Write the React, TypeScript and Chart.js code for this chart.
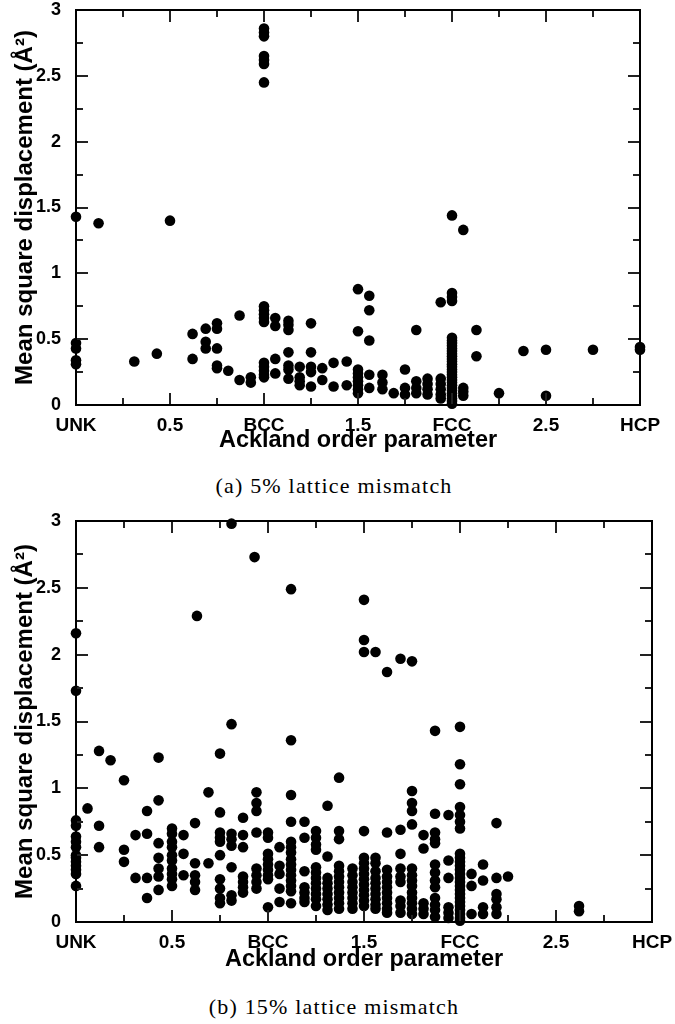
import React, { useEffect, useRef } from 'react';
import { Chart, registerables } from 'chart.js';

Chart.register(...registerables);

const xTickLabels = ['UNK', '0.5', 'BCC', '1.5', 'FCC', '2.5', 'HCP'];
const yTickLabels = ['0', '0.5', '1', '1.5', '2', '2.5', '3'];
const xAxisTitle = 'Ackland order parameter';
const yAxisTitle = 'Mean square displacement (Å²)';
const captionA = '(a) 5% lattice mismatch';
const captionB = '(b) 15% lattice mismatch';

// (a) 5% lattice mismatch: [order parameter, MSD]
const mismatch5: [number, number][] = [
  [0, 1.43], [0.12, 1.38], [0.5, 1.4],
  [0, 0.47], [0, 0.43], [0, 0.34], [0, 0.31],
  [0.31, 0.33], [0.43, 0.39],
  [0.62, 0.54], [0.62, 0.35],
  [0.69, 0.58], [0.69, 0.48], [0.69, 0.43],
  [0.75, 0.62], [0.75, 0.58], [0.75, 0.43], [0.75, 0.3], [0.75, 0.28],
  [0.81, 0.26],
  [0.87, 0.68], [0.87, 0.19],
  [0.93, 0.21], [0.93, 0.17],
  [1, 2.86], [1, 2.83], [1, 2.8], [1, 2.65], [1, 2.62], [1, 2.59], [1, 2.45],
  [1, 0.75], [1, 0.72], [1, 0.69], [1, 0.66], [1, 0.63],
  [1, 0.32], [1, 0.29], [1, 0.26], [1, 0.23], [1, 0.21],
  [1.06, 0.66], [1.06, 0.6], [1.06, 0.35], [1.06, 0.24],
  [1.13, 0.64], [1.13, 0.61], [1.13, 0.57], [1.13, 0.4], [1.13, 0.3], [1.13, 0.27], [1.13, 0.2],
  [1.19, 0.29], [1.19, 0.21], [1.19, 0.18], [1.19, 0.15],
  [1.25, 0.62], [1.25, 0.4], [1.25, 0.29], [1.25, 0.25], [1.25, 0.14],
  [1.31, 0.28], [1.31, 0.19],
  [1.37, 0.32], [1.37, 0.14],
  [1.44, 0.33], [1.44, 0.15],
  [1.5, 0.88], [1.5, 0.56], [1.5, 0.27], [1.5, 0.24], [1.5, 0.21], [1.5, 0.18], [1.5, 0.15], [1.5, 0.12], [1.5, 0.09],
  [1.56, 0.83], [1.56, 0.72], [1.56, 0.49], [1.56, 0.23], [1.56, 0.13],
  [1.63, 0.23], [1.63, 0.17], [1.63, 0.12],
  [1.69, 0.09],
  [1.75, 0.27], [1.75, 0.13], [1.75, 0.08],
  [1.81, 0.57], [1.81, 0.18], [1.81, 0.13], [1.81, 0.09],
  [1.87, 0.2], [1.87, 0.16], [1.87, 0.12], [1.87, 0.08],
  [1.94, 0.78], [1.94, 0.2], [1.94, 0.16], [1.94, 0.12], [1.94, 0.08], [1.94, 0.05],
  [2, 1.44], [2, 0.85], [2, 0.82], [2, 0.79],
  [2, 0.51], [2, 0.49], [2, 0.47], [2, 0.45], [2, 0.43], [2, 0.41], [2, 0.39], [2, 0.37], [2, 0.35],
  [2, 0.33], [2, 0.31], [2, 0.29], [2, 0.27], [2, 0.25], [2, 0.23], [2, 0.21], [2, 0.19], [2, 0.17],
  [2, 0.15], [2, 0.13], [2, 0.11], [2, 0.09], [2, 0.07], [2, 0.05], [2, 0.03], [2, 0.01],
  [2.06, 1.33], [2.06, 0.13], [2.06, 0.1], [2.06, 0.07],
  [2.13, 0.57], [2.13, 0.37],
  [2.25, 0.09],
  [2.38, 0.41],
  [2.5, 0.42], [2.5, 0.07],
  [2.75, 0.42],
  [3, 0.44], [3, 0.42],
];

// (b) 15% lattice mismatch: [order parameter, MSD]
const mismatch15: [number, number][] = [
  [0.81, 2.98], [0.93, 2.73], [1.12, 2.49], [0.63, 2.29],
  [0, 2.16], [0, 1.73],
  [1.5, 2.41], [1.5, 2.11], [1.5, 2.02], [1.56, 2.02], [1.62, 1.87], [1.69, 1.97], [1.75, 1.95],
  [1.87, 1.43], [2, 1.46], [2, 1.18], [2, 1.03],
  [1.37, 1.08], [0.81, 1.48], [1.12, 1.36], [0.12, 1.28], [0.18, 1.21], [0.25, 1.06], [0.43, 1.23], [0.75, 1.26],
  [0.06, 0.85],
  [0, 0.76], [0, 0.72], [0, 0.64], [0, 0.6], [0, 0.56], [0, 0.5], [0, 0.48], [0, 0.45], [0, 0.42], [0, 0.39], [0, 0.36], [0, 0.27],
  [0.12, 0.72], [0.12, 0.56],
  [0.25, 0.54], [0.25, 0.45],
  [0.31, 0.65], [0.31, 0.33],
  [0.37, 0.83], [0.37, 0.66], [0.37, 0.33], [0.37, 0.18],
  [0.43, 0.91], [0.43, 0.59], [0.43, 0.48], [0.43, 0.4], [0.43, 0.34], [0.43, 0.24],
  [0.5, 0.7], [0.5, 0.66], [0.5, 0.6], [0.5, 0.56], [0.5, 0.5], [0.5, 0.46], [0.5, 0.4], [0.5, 0.36], [0.5, 0.32], [0.5, 0.27],
  [0.56, 0.65], [0.56, 0.51], [0.56, 0.35],
  [0.62, 0.74], [0.62, 0.44], [0.62, 0.35], [0.62, 0.3], [0.62, 0.24],
  [0.69, 0.97], [0.69, 0.44],
  [0.75, 0.82], [0.75, 0.67], [0.75, 0.63], [0.75, 0.6], [0.75, 0.5], [0.75, 0.32], [0.75, 0.25], [0.75, 0.18], [0.75, 0.14],
  [0.81, 0.66], [0.81, 0.62], [0.81, 0.57], [0.81, 0.41], [0.81, 0.2], [0.81, 0.16],
  [0.87, 0.78], [0.87, 0.65], [0.87, 0.56], [0.87, 0.34], [0.87, 0.3], [0.87, 0.26], [0.87, 0.22],
  [0.94, 0.97], [0.94, 0.89], [0.94, 0.83], [0.94, 0.67], [0.94, 0.4], [0.94, 0.35], [0.94, 0.3], [0.94, 0.25],
  [1, 0.67], [1, 0.63], [1, 0.51], [1, 0.47], [1, 0.43], [1, 0.39], [1, 0.35], [1, 0.32], [1, 0.11],
  [1.06, 0.56], [1.06, 0.42], [1.06, 0.36], [1.06, 0.25], [1.06, 0.15],
  [1.12, 0.95], [1.12, 0.75], [1.12, 0.6], [1.12, 0.56], [1.12, 0.52], [1.12, 0.47], [1.12, 0.43], [1.12, 0.39],
  [1.12, 0.35], [1.12, 0.31], [1.12, 0.27], [1.12, 0.23], [1.12, 0.14],
  [1.19, 0.75], [1.19, 0.63], [1.19, 0.38], [1.19, 0.26], [1.19, 0.22], [1.19, 0.18], [1.19, 0.15],
  [1.25, 0.68], [1.25, 0.63], [1.25, 0.58], [1.25, 0.54], [1.25, 0.41], [1.25, 0.37], [1.25, 0.33], [1.25, 0.29],
  [1.25, 0.25], [1.25, 0.21], [1.25, 0.17], [1.25, 0.12],
  [1.31, 0.87], [1.31, 0.49], [1.31, 0.33], [1.31, 0.29], [1.31, 0.25], [1.31, 0.21], [1.31, 0.17], [1.31, 0.13], [1.31, 0.09],
  [1.37, 0.68], [1.37, 0.62], [1.37, 0.42], [1.37, 0.38], [1.37, 0.34], [1.37, 0.3], [1.37, 0.26], [1.37, 0.22],
  [1.37, 0.18], [1.37, 0.14], [1.37, 0.1],
  [1.44, 0.4], [1.44, 0.35], [1.44, 0.3], [1.44, 0.26], [1.44, 0.22], [1.44, 0.18], [1.44, 0.14], [1.44, 0.1],
  [1.5, 0.68], [1.5, 0.48], [1.5, 0.44], [1.5, 0.4], [1.5, 0.36], [1.5, 0.32], [1.5, 0.28], [1.5, 0.24], [1.5, 0.2],
  [1.5, 0.16], [1.5, 0.12],
  [1.56, 0.48], [1.56, 0.44], [1.56, 0.38], [1.56, 0.33], [1.56, 0.29], [1.56, 0.25], [1.56, 0.21], [1.56, 0.17],
  [1.56, 0.13], [1.56, 0.1],
  [1.62, 0.67], [1.62, 0.39], [1.62, 0.34], [1.62, 0.3], [1.62, 0.26], [1.62, 0.22], [1.62, 0.18], [1.62, 0.14],
  [1.62, 0.1], [1.62, 0.07],
  [1.69, 0.69], [1.69, 0.51], [1.69, 0.4], [1.69, 0.34], [1.69, 0.3], [1.69, 0.16], [1.69, 0.12], [1.69, 0.07],
  [1.75, 0.98], [1.75, 0.89], [1.75, 0.83], [1.75, 0.73], [1.75, 0.4], [1.75, 0.35], [1.75, 0.31], [1.75, 0.27],
  [1.75, 0.22], [1.75, 0.18], [1.75, 0.14], [1.75, 0.1], [1.75, 0.06],
  [1.81, 0.65], [1.81, 0.55], [1.81, 0.14], [1.81, 0.1], [1.81, 0.06],
  [1.87, 0.81], [1.87, 0.67], [1.87, 0.62], [1.87, 0.59], [1.87, 0.43], [1.87, 0.37], [1.87, 0.31], [1.87, 0.26],
  [1.87, 0.18], [1.87, 0.13], [1.87, 0.09], [1.87, 0.04],
  [1.94, 0.8], [1.94, 0.46], [1.94, 0.33], [1.94, 0.11], [1.94, 0.07], [1.94, 0.03],
  [2, 0.86], [2, 0.8], [2, 0.75], [2, 0.7],
  [2, 0.51], [2, 0.48], [2, 0.45], [2, 0.42], [2, 0.39], [2, 0.36], [2, 0.33], [2, 0.3], [2, 0.27], [2, 0.24],
  [2, 0.21], [2, 0.18], [2, 0.15], [2, 0.12], [2, 0.09], [2, 0.06], [2, 0.03], [2, 0.01],
  [2.06, 0.36], [2.06, 0.27], [2.06, 0.06],
  [2.12, 0.43], [2.12, 0.31], [2.12, 0.11], [2.12, 0.06],
  [2.19, 0.74], [2.19, 0.33], [2.19, 0.21], [2.19, 0.17], [2.19, 0.11], [2.19, 0.06],
  [2.25, 0.34],
  [2.62, 0.12], [2.62, 0.08],
];

const SANS = '"Liberation Sans", Arial, Helvetica, sans-serif';
const TICK_STEPS = [0, 0.25, 0.5, 0.75, 1, 1.25, 1.5, 1.75, 2, 2.25, 2.5, 2.75, 3];

const frameTicks = {
  id: 'frameTicks',
  afterDraw(chart: any) {
    const ctx = chart.ctx;
    const area = chart.chartArea;
    const xs = chart.scales['x'];
    const ys = chart.scales['y'];
    const left = area.left;
    const right = area.right;
    const top = area.top;
    const bottom = area.bottom;
    ctx.save();
    ctx.strokeStyle = '#222';
    ctx.lineWidth = 2;
    ctx.lineCap = 'butt';
    for (let i = 0; i < TICK_STEPS.length; i++) {
      const v = TICK_STEPS[i];
      const len = i % 2 === 0 ? 12 : 7;
      const px = Math.round(xs.getPixelForValue(v));
      const py = Math.round(ys.getPixelForValue(v));
      ctx.beginPath();
      ctx.moveTo(px, bottom);
      ctx.lineTo(px, bottom - len);
      ctx.moveTo(px, top);
      ctx.lineTo(px, top + len);
      ctx.moveTo(left, py);
      ctx.lineTo(left + len, py);
      ctx.moveTo(right, py);
      ctx.lineTo(right - len, py);
      ctx.stroke();
    }
    ctx.strokeStyle = '#000';
    ctx.lineWidth = 2;
    ctx.strokeRect(left, top, right - left, bottom - top);
    ctx.restore();
  },
};

type PanelProps = {
  points: [number, number][];
  width: number;
  height: number;
  padTop: number;
  padRight: number;
  xScaleHeight: number;
  xTitlePad: number;
};

function Panel({ points, width, height, padTop, padRight, xScaleHeight, xTitlePad }: PanelProps) {
  const ref = useRef<HTMLCanvasElement | null>(null);
  useEffect(() => {
    if (!ref.current) return;
    const chart = new Chart(ref.current, {
      type: 'scatter',
      data: {
        datasets: [
          {
            data: points.map(([x, y]) => ({ x, y })),
            pointRadius: 5.3,
            pointBackgroundColor: '#000',
            pointBorderWidth: 0,
            clip: false as any,
          },
        ],
      },
      plugins: [frameTicks],
      options: {
        animation: false,
        responsive: false,
        maintainAspectRatio: false,
        layout: { padding: { left: 0, top: padTop, right: padRight, bottom: 0 } },
        plugins: { legend: { display: false }, tooltip: { enabled: false } },
        scales: {
          x: {
            type: 'linear',
            min: 0,
            max: 3,
            grid: { display: false },
            border: { display: false },
            ticks: {
              stepSize: 0.5,
              autoSkip: false,
              maxRotation: 0,
              padding: 1,
              color: '#000',
              font: { family: SANS, size: 19, weight: 'bold' },
              callback: (v: any) => xTickLabels[Math.round(Number(v) * 2)] ?? '',
            },
            title: {
              display: true,
              text: xAxisTitle,
              color: '#000',
              font: { family: SANS, size: 23.5, weight: 'bold' },
              padding: { top: 0, bottom: xTitlePad },
            },
            afterFit: (s: any) => {
              s.height = xScaleHeight;
              s.paddingLeft = 0;
              s.paddingRight = 0;
            },
          },
          y: {
            type: 'linear',
            min: 0,
            max: 3,
            grid: { display: false },
            border: { display: false },
            ticks: {
              stepSize: 0.5,
              autoSkip: false,
              padding: 7,
              color: '#000',
              font: { family: SANS, size: 18, weight: 'bold' },
              callback: (v: any) => yTickLabels[Math.round(Number(v) * 2)] ?? '',
            },
            title: {
              display: true,
              text: yAxisTitle,
              color: '#000',
              font: { family: SANS, size: 24, weight: 'bold' },
              padding: { top: 11, bottom: 0 },
            },
            afterFit: (s: any) => {
              s.width = 76;
              s.paddingTop = 0;
              s.paddingBottom = 0;
            },
          },
        },
      } as any,
    });
    return () => chart.destroy();
  }, []);
  return <canvas ref={ref} width={width} height={height} style={{ display: 'block', width, height }} />;
}

const captionStyle: React.CSSProperties = {
  position: 'absolute',
  left: 0,
  width: 668,
  textAlign: 'center',
  fontFamily: '"Liberation Serif", "Times New Roman", serif',
  fontSize: 22,
  letterSpacing: 1.2,
  lineHeight: '26px',
  color: '#000',
};

export default function App() {
  return (
    <div style={{ position: 'absolute', left: 0, top: 0, width: 675, height: 1024, background: '#fff' }}>
      <div style={{ position: 'absolute', left: 0, top: 0 }}>
        <Panel points={mismatch5} width={675} height={460} padTop={10} padRight={35} xScaleHeight={55} xTitlePad={5} />
      </div>
      <div style={{ ...captionStyle, top: 473 }}>{captionA}</div>
      <div style={{ position: 'absolute', left: 0, top: 510 }}>
        <Panel points={mismatch15} width={675} height={470} padTop={11} padRight={23} xScaleHeight={58} xTitlePad={6} />
      </div>
      <div style={{ ...captionStyle, top: 994 }}>{captionB}</div>
    </div>
  );
}
